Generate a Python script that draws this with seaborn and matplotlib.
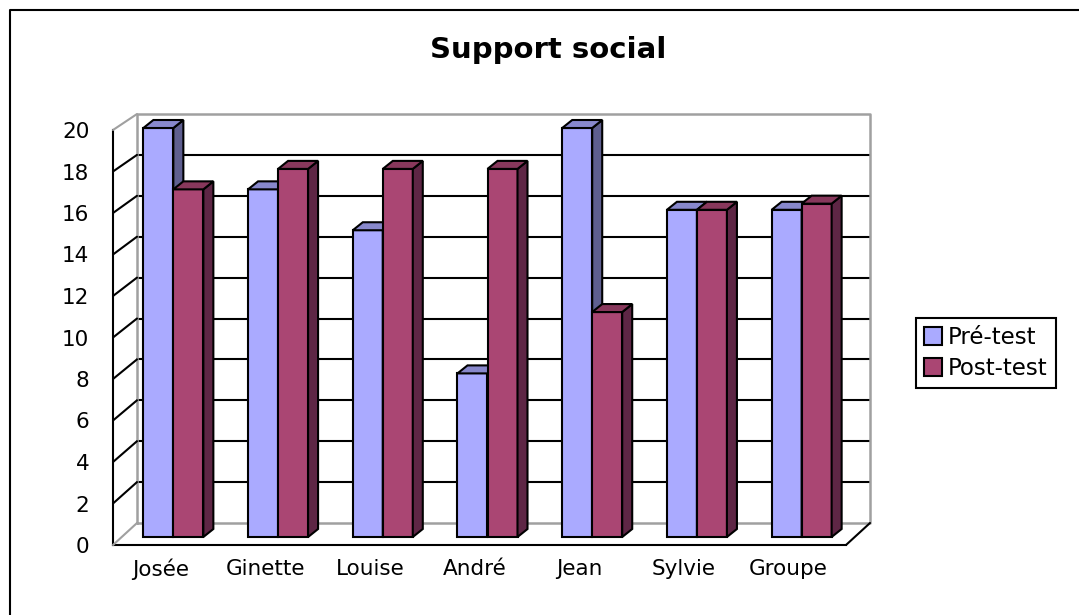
import numpy as np
import pandas as pd
import seaborn as sns
import matplotlib.pyplot as plt
from matplotlib.colors import to_rgba
from matplotlib.lines import Line2D
from matplotlib.patches import Patch, Polygon
from matplotlib.transforms import ScaledTranslation

# data
personnes = ['Josée', 'Ginette', 'Louise', 'André', 'Jean', 'Sylvie', 'Groupe']
pre_test = [20, 17, 15, 8, 20, 16, 16]
post_test = [17, 18, 18, 18, 11, 16, 16.3]
series = ['Pré-test', 'Post-test']
y_ticks = list(range(0, 21, 2))

df = pd.DataFrame({
    'personne': personnes * 2,
    'score': pre_test + post_test,
    'serie': [series[0]] * len(personnes) + [series[1]] * len(personnes),
})

front_col = {'Pré-test': '#aaaaff', 'Post-test': '#aa4673'}
side_col = {'Pré-test': '#5f5f90', 'Post-test': '#5e2645'}
top_col = {'Pré-test': '#8888cc', 'Post-test': '#88385c'}
wall_gray = '#a0a0a0'

sns.set_style('white')
plt.rcParams['font.family'] = ['DejaVu Sans']
plt.rcParams['text.color'] = 'black'
plt.rcParams['xtick.color'] = 'black'
plt.rcParams['ytick.color'] = 'black'
plt.rcParams['xtick.labelcolor'] = 'black'
plt.rcParams['ytick.labelcolor'] = 'black'

W, H = 1079, 615
fig = plt.figure(figsize=(W / 100, H / 100), dpi=100)

# front axis (ticks + labels), and the plane the bars stand in, a bit deeper
fax = fig.add_axes([113 / W, (H - 545) / H, 733 / W, 415 / H])
ax = fig.add_axes([121 / W, (H - 537) / H, 733 / W, 409 / H])
fax.set_zorder(1)
ax.set_zorder(2)
fax.patch.set_visible(False)
ax.patch.set_visible(False)

sns.barplot(data=df, x='personne', y='score', hue='serie', palette=front_col,
            width=0.573, saturation=1, edgecolor='black', linewidth=1.5,
            legend=False, ax=ax)
ax.set_xlim(-0.5, len(personnes) - 0.5)
ax.set_ylim(0, 20)
ax.set_axis_off()

sx = 733 / len(personnes)   # px per category
sy = 409 / 20               # px per unit

# back wall
wdx, wdy = 16 / sx, 14 / sy
wx0, wx1 = -0.5 + wdx, len(personnes) - 0.5 + wdx
for v in y_ticks[1:-1]:
    ax.plot([wx0, wx1], [v + wdy] * 2, color='black', lw=1.5, clip_on=False, zorder=1)
ax.plot([wx0, wx0, wx1, wx1, wx0], [wdy, 20 + wdy, 20 + wdy, wdy, wdy],
        color=wall_gray, lw=1.8, clip_on=False, zorder=1)

# front axis
fax.set_xlim(-0.5, len(personnes) - 0.5)
fax.set_ylim(0, 20)
for s in ['top', 'right']:
    fax.spines[s].set_visible(False)
for s in ['left', 'bottom']:
    fax.spines[s].set_color('black')
    fax.spines[s].set_linewidth(1.5)
fax.set_yticks(y_ticks)
fax.set_xticks(np.arange(len(personnes) + 1) - 0.5)
fax.set_xticklabels([])
fax.set_xticks(np.arange(len(personnes)), minor=True)
fax.set_xticklabels(personnes, minor=True)
fax.tick_params(axis='both', which='major', direction='out', length=6, width=1.5,
                color='black', labelcolor='black', labelsize=15.5)
fax.tick_params(axis='y', pad=11)
fax.tick_params(axis='x', which='minor', length=0, pad=10, labelsize=15.5, labelcolor='black')
for lab in fax.get_xticklabels(minor=True):
    lab.set_transform(lab.get_transform() + ScaledTranslation(-0.05, 0, fig.dpi_scale_trans))

# depth lines from the front axis to the wall
def to_ax(x, y):
    return ax.transData.inverted().transform(fax.transData.transform((x, y)))

for v in y_ticks:
    fx, fy = to_ax(-0.5, v)
    c = wall_gray if v in (0, 20) else 'black'
    ax.plot([fx, wx0], [fy, v + wdy], color=c, lw=1.5, clip_on=False, zorder=1)
fx, fy = to_ax(len(personnes) - 0.5, 0)
ax.plot([fx, wx1], [fy, wdy], color='black', lw=1.5, clip_on=False, zorder=1)

# 3d faces of the bars
bdx, bdy = 10 / sx, 8 / sy
bars = sorted(ax.patches, key=lambda p: p.get_x())
for i, p in enumerate(bars):
    serie = series[0] if np.allclose(p.get_facecolor(), to_rgba(front_col[series[0]])) else series[1]
    x0, w, h = p.get_x(), p.get_width(), p.get_height()
    z = 3 + i * 3
    p.set_zorder(z)
    p.set_clip_on(False)
    p.set_joinstyle('miter')
    side = Polygon([(x0 + w, 0), (x0 + w, h), (x0 + w + bdx, h + bdy), (x0 + w + bdx, bdy)],
                   closed=True, facecolor=side_col[serie], edgecolor='black', lw=1.5,
                   joinstyle='miter', clip_on=False, zorder=z + 1)
    top = Polygon([(x0, h), (x0 + w, h), (x0 + w + bdx, h + bdy), (x0 + bdx, h + bdy)],
                  closed=True, facecolor=top_col[serie], edgecolor='black', lw=1.5,
                  joinstyle='miter', clip_on=False, zorder=z + 2)
    ax.add_patch(side)
    ax.add_patch(top)

fig.text(548 / W, 1 - 58 / H, 'Support social', ha='center', va='baseline',
         fontsize=21, fontweight='bold', color='black')

handles = [Patch(facecolor=front_col[s], edgecolor='black', lw=1.5) for s in series]
leg = fig.legend(handles, series, loc='upper left', bbox_to_anchor=(916 / W, 1 - 318 / H),
                 frameon=True, fancybox=False, framealpha=1, edgecolor='black', fontsize=16.5,
                 handlelength=0.8, handleheight=0.8, handletextpad=0.25,
                 borderpad=0.35, labelspacing=0.35, borderaxespad=0)
leg.get_frame().set_linewidth(1.5)
leg.get_frame().set_edgecolor('black')
for t in leg.get_texts():
    t.set_color('black')

# chart border (only left and top visible in the picture)
fig.add_artist(Line2D([9.5 / W, 9.5 / W, 1], [0, 1 - 9.5 / H, 1 - 9.5 / H],
                      color='black', lw=1.5, transform=fig.transFigure))

fig.savefig('out.png', dpi=100)
